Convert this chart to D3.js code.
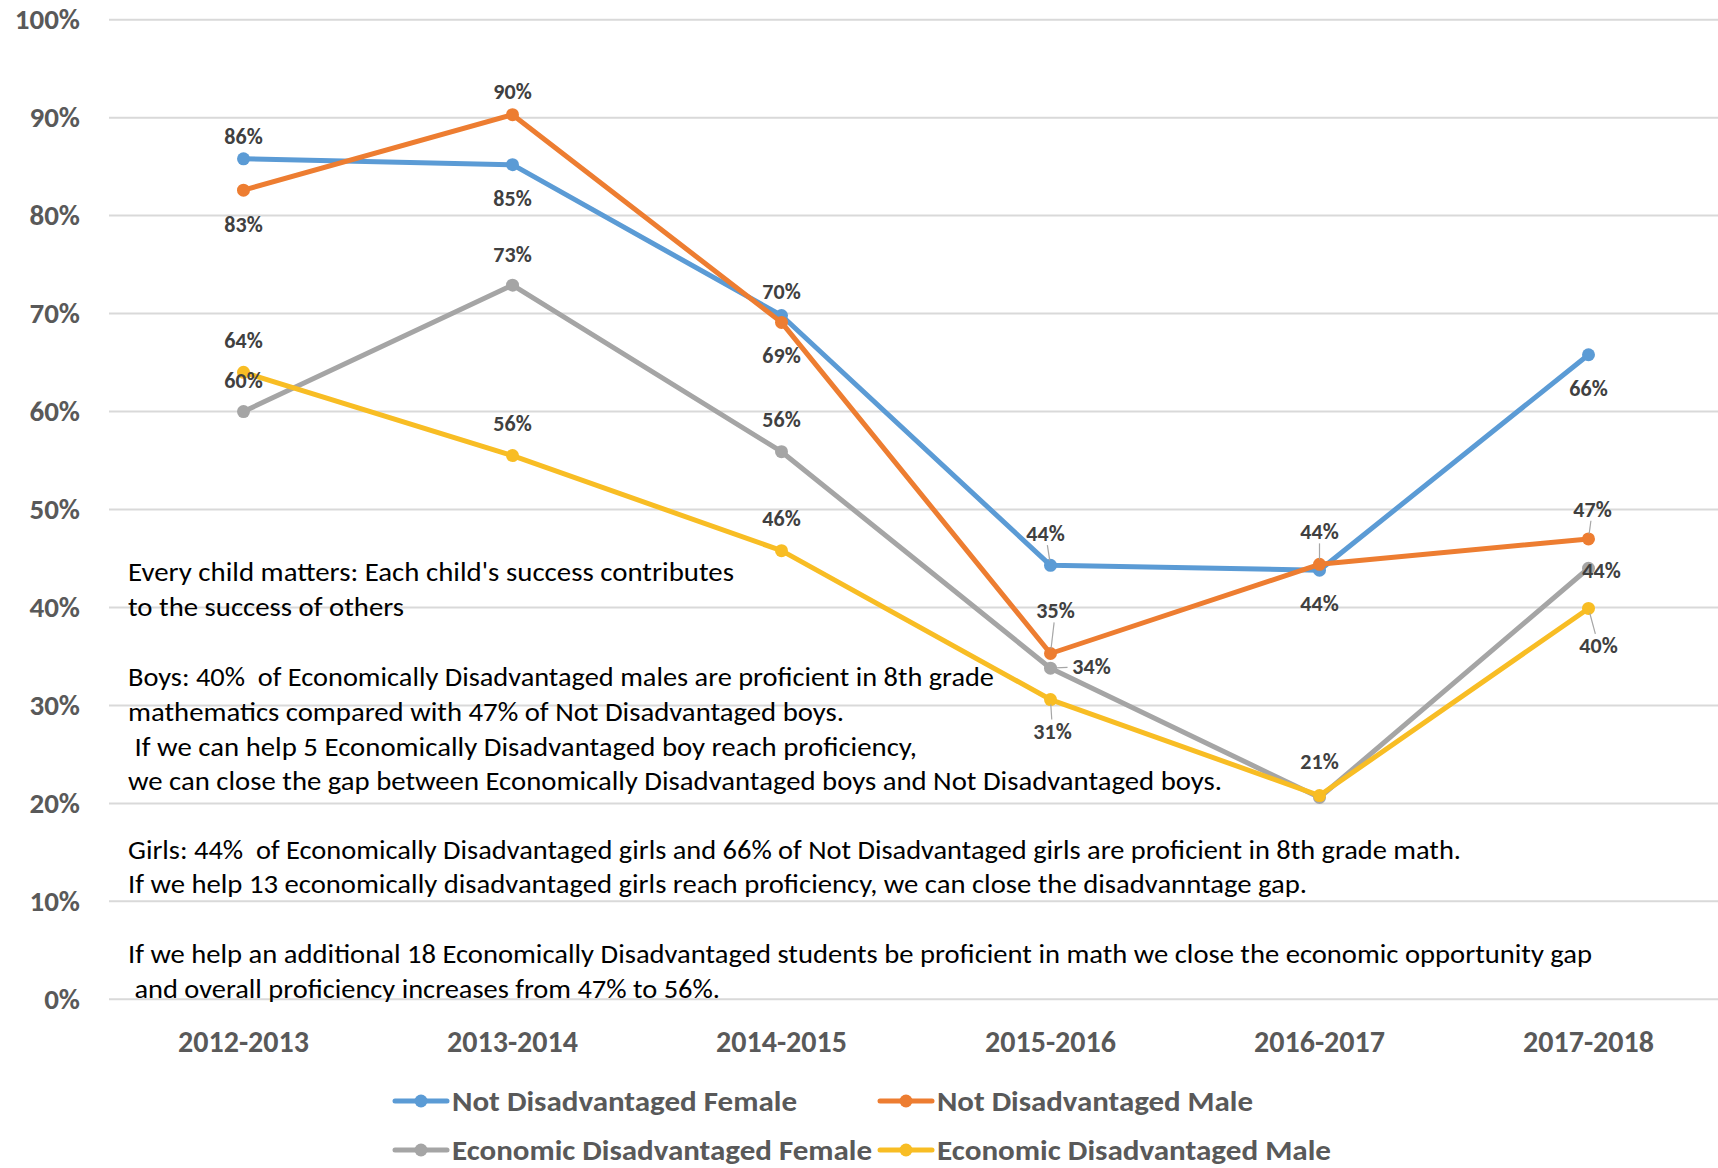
<!DOCTYPE html>
<html><head><meta charset="utf-8">
<script src="https://cdn.jsdelivr.net/npm/d3@7"></script>
<style>
html,body{margin:0;padding:0;background:#fff;}
svg{display:block;}
text{font-family:Carlito, Lato, "Open Sans", sans-serif;}
</style></head>
<body>
<svg id="chart" width="1718" height="1168"></svg>
<script>
// ---------- data ----------
const categories = ["2012-2013","2013-2014","2014-2015","2015-2016","2016-2017","2017-2018"];
const seriesNames = ["Not Disadvantaged Female","Not Disadvantaged Male","Economic Disadvantaged Female","Economic Disadvantaged Male"];
const notDisadvantagedFemale = [85.8, 85.2, 69.8, 44.3, 43.8, 65.8];
const notDisadvantagedMale   = [82.6, 90.3, 69.1, 35.3, 44.4, 47.0];
const econDisadvantagedFemale = [60.0, 72.9, 55.9, 33.8, 20.6, 44.0];
const econDisadvantagedMale   = [64.0, 55.5, 45.8, 30.6, 20.8, 39.9];
const yTicks = [0,10,20,30,40,50,60,70,80,90,100];
const seriesColors = ["#5B9BD5","#ED7D31","#A5A5A5","#F8BD24"];
const annotationLines = [
  "Every child matters: Each child's success contributes",
  "to the success of others",
  "Boys: 40%  of Economically Disadvantaged males are proficient in 8th grade",
  "mathematics compared with 47% of Not Disadvantaged boys.",
  " If we can help 5 Economically Disadvantaged boy reach proficiency,",
  "we can close the gap between Economically Disadvantaged boys and Not Disadvantaged boys.",
  "Girls: 44%  of Economically Disadvantaged girls and 66% of Not Disadvantaged girls are proficient in 8th grade math.",
  "If we help 13 economically disadvantaged girls reach proficiency, we can close the disadvanntage gap.",
  "If we help an additional 18 Economically Disadvantaged students be proficient in math we close the economic opportunity gap",
  " and overall proficiency increases from 47% to 56%."
];

// ---------- layout (not data) ----------
// label offsets [dx, dy, leader?] per series per category; null = hidden
const labelLayout = [
  [[0,-23,0],[0,34,0],[0,-24,0],[-5,-32,1],[0,33,0],[0,34,0]],
  [[0,34,0],[0,-23,0],[0,33,0],[5,-43,1],[0,-33,1],[4,-30,1]],
  [[0,-31,0],[0,-31,0],[0,-32,0],[41,-2,1],null,[13,2,0]],
  [[0,-32,0],[0,-32,0],[0,-32,0],[2,32,1],[0,-34,0],[10,37,1]]
];
const annotationLayout = [
  {x:128,y:572,w:606},{x:128,y:607,w:276},
  {x:128,y:677,w:866},{x:128,y:712,w:716},{x:128,y:747,w:789},{x:128,y:781,w:1094},
  {x:128,y:850,w:1333},{x:128,y:884,w:1179},
  {x:128,y:954,w:1464},{x:128,y:989,w:592}
];

const allSeries = [notDisadvantagedFemale, notDisadvantagedMale, econDisadvantagedFemale, econDisadvantagedMale];

const svg = d3.select("#chart");
const x = d3.scaleBand().domain(categories).range([109, 1723]).padding(0);
const cx = c => x(c) + x.bandwidth()/2;
const y = d3.scaleLinear().domain([0,100]).range([999.3, 19.7]);

// gridlines
svg.append("g").selectAll("line").data(yTicks).join("line")
  .attr("x1",109).attr("x2",1718)
  .attr("y1",d=>y(d)).attr("y2",d=>y(d))
  .attr("stroke","#D9D9D9").attr("stroke-width",2);

// y axis
const yAxis = d3.axisLeft(y).tickValues(yTicks).tickFormat(d=>d+"%").tickSize(0).tickPadding(0);
const gy = svg.append("g").attr("transform","translate(80,0)").call(yAxis);
gy.select(".domain").remove();
gy.selectAll("text").attr("font-size",29).attr("font-weight","bold").attr("fill","#595959")
  .attr("font-family","Carlito, Lato, sans-serif");

// x axis
const xAxis = d3.axisBottom(x).tickSize(0).tickPadding(0);
const gx = svg.append("g").attr("transform","translate(0,1041)").call(xAxis);
gx.select(".domain").remove();
gx.selectAll("text").attr("font-size",30).attr("font-weight","bold").attr("fill","#595959")
  .attr("dy","0.35em").attr("font-family","Carlito, Lato, sans-serif");

// annotation text
svg.append("g").selectAll("text").data(annotationLines).join("text")
  .attr("x",(d,i)=>annotationLayout[i].x)
  .attr("y",(d,i)=>annotationLayout[i].y)
  .attr("dy","0.35em")
  .attr("textLength",(d,i)=>annotationLayout[i].w)
  .attr("lengthAdjust","spacingAndGlyphs")
  .attr("font-size",27).attr("fill","#000")
  .style("white-space","pre")
  .text(d=>d);

// lines
const line = d3.line().x((d,i)=>cx(categories[i])).y(d=>y(d));
allSeries.forEach((vals,si)=>{
  const g = svg.append("g");
  g.append("path").datum(vals).attr("d",line)
    .attr("fill","none").attr("stroke",seriesColors[si]).attr("stroke-width",5)
    .attr("stroke-linejoin","round").attr("stroke-linecap","round");
  g.selectAll("circle").data(vals).join("circle")
    .attr("cx",(d,i)=>cx(categories[i])).attr("cy",d=>y(d)).attr("r",6.5)
    .attr("fill",seriesColors[si]);
});

// data labels with leader lines
allSeries.forEach((vals,si)=>{
  const g = svg.append("g");
  vals.forEach((v,i)=>{
    const L = labelLayout[si][i];
    if(!L) return;
    const px = cx(categories[i]), py = y(v);
    const lx = px + L[0], ly = py + L[1];
    if(L[2]){
      const dx = L[0], dy = L[1];
      const len = Math.hypot(dx,dy);
      const ux = dx/len, uy = dy/len;
      const endD = Math.abs(dx) > Math.abs(dy) ? len - 24 : len - 12;
      g.append("line")
        .attr("x1",px+ux*5).attr("y1",py+uy*5)
        .attr("x2",px+ux*endD).attr("y2",py+uy*endD)
        .attr("stroke","#A6A6A6").attr("stroke-width",1.2);
    }
    g.append("text").attr("x",lx).attr("y",ly).attr("dy","0.35em")
      .attr("text-anchor","middle").attr("font-size",22).attr("font-weight","bold")
      .attr("fill","#404040").text(Math.round(v)+"%");
  });
});

// legend
const legendItems = [
  {lx:395, tx:452, y:1101, w:345},
  {lx:880, tx:937, y:1101, w:316},
  {lx:395, tx:452, y:1150, w:420},
  {lx:880, tx:937, y:1150, w:394}
];
const lg = svg.append("g");
seriesNames.forEach((name,i)=>{
  const it = legendItems[i];
  lg.append("line").attr("x1",it.lx).attr("x2",it.lx+52).attr("y1",it.y).attr("y2",it.y)
    .attr("stroke",seriesColors[i]).attr("stroke-width",5).attr("stroke-linecap","round");
  lg.append("circle").attr("cx",it.lx+26).attr("cy",it.y).attr("r",6.5).attr("fill",seriesColors[i]);
  lg.append("text").attr("x",it.tx).attr("y",it.y).attr("dy","0.35em")
    .attr("font-size",28).attr("font-weight","bold").attr("fill","#595959")
    .attr("textLength",it.w).attr("lengthAdjust","spacingAndGlyphs")
    .text(name);
});
</script>
</body></html>
